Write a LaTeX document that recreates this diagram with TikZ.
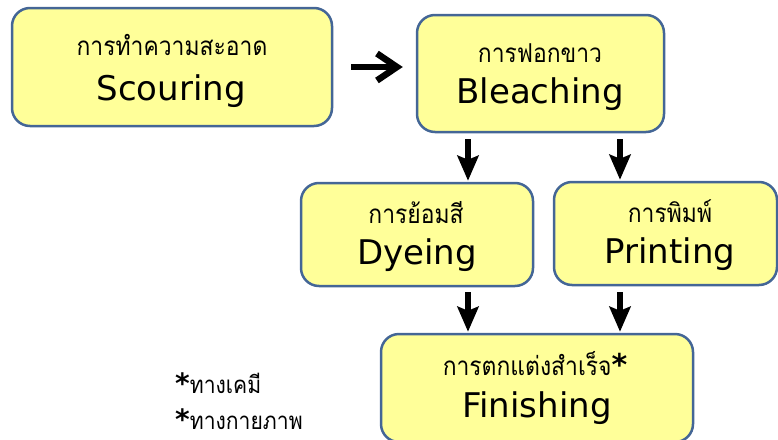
\documentclass[tikz,border=0pt]{standalone}
\usepackage{fontspec}
\setmainfont{DejaVu Sans}
\newfontfamily\thaifont[Script=Thai,FakeStretch=0.88]{Loma}
\usetikzlibrary{arrows.meta}
\definecolor{boxfill}{RGB}{255,255,153}
\definecolor{boxline}{RGB}{68,102,150}
\begin{document}
\begin{tikzpicture}[x=1pt,y=-1pt,
  stagebox/.style={draw=boxline, line width=2.5pt, fill=boxfill, rounded corners=18pt, inner sep=0pt},
  thlabel/.style={anchor=base, inner sep=0pt, font=\thaifont\fontsize{26}{26}\selectfont},
  enlabel/.style={anchor=base, inner sep=0pt, font=\fontsize{34}{34}\selectfont},
  darr/.style={line width=6pt, -{Stealth[length=25pt,width=21pt,inset=4pt]}},
  rarr/.style={line width=6.5pt, -{Straight Barb[length=20pt,width=27pt]}},
  notelabel/.style={anchor=base west, inner sep=0pt},
]
\useasboundingbox (0,0) rectangle (778,439);
\begin{scope}
\clip (0,0) rectangle (778,439);
% boxes
\node[stagebox, minimum width=320pt, minimum height=118pt] (scour) at (172,67) {};
\node[stagebox, minimum width=247pt, minimum height=117pt] (bleach) at (540.5,73.5) {};
\node[stagebox, minimum width=232pt, minimum height=103pt] (dye) at (417,234.5) {};
\node[stagebox, minimum width=223pt, minimum height=103pt] (print) at (665.5,233.5) {};
\node[stagebox, minimum width=312pt, minimum height=108pt] (fin) at (537,388) {};
\end{scope}
% labels
\node[thlabel] (scourth) at (172,55) {การทำความสะอาด};
\node[enlabel] (scouren) at (171,100) {Scouring};
\node[thlabel] (bleachth) at (540,62) {การฟอกขาว};
\node[enlabel] (bleachen) at (540,103) {Bleaching};
\node[thlabel] (dyeth) at (416,223) {การย้อมสี};
\node[enlabel] (dyeen) at (417,264) {Dyeing};
\node[thlabel] (printth) at (670,222) {การพิมพ์};
\node[enlabel] (printen) at (670,263) {Printing};
\node[thlabel] (finth) at (535,375) {การตกแต่งสำเร็จ{\normalfont\bfseries\fontsize{30}{30}\selectfont *}};
\node[enlabel] (finen) at (537,417) {Finishing};
% notes
\node[notelabel] (chem) at (175,393) {{\normalfont\bfseries\fontsize{28}{28}\selectfont *}{\thaifont\fontsize{24}{24}\selectfont ทางเคมี}};
\node[notelabel] (phys) at (175,429) {{\normalfont\bfseries\fontsize{28}{28}\selectfont *}{\thaifont\fontsize{24}{24}\selectfont ทางกายภาพ}};
% arrows
\draw[rarr, shorten <=18pt, shorten >=13pt] (scour.east) -- (scour.east -| bleach.west);
\draw[darr, shorten <=6pt, shorten >=1pt] ([xshift=-72.5pt]bleach.south) -- ([xshift=51pt]dye.north);
\draw[darr, shorten <=6pt, shorten >=1pt] ([xshift=79.5pt]bleach.south) -- ([xshift=-45.5pt]print.north);
\draw[darr, shorten <=5pt, shorten >=1pt] ([xshift=51pt]dye.south) -- ([xshift=-69pt]fin.north);
\draw[darr, shorten <=6pt, shorten >=1pt] ([xshift=-45.5pt]print.south) -- ([xshift=83pt]fin.north);
\end{tikzpicture}
\end{document}
